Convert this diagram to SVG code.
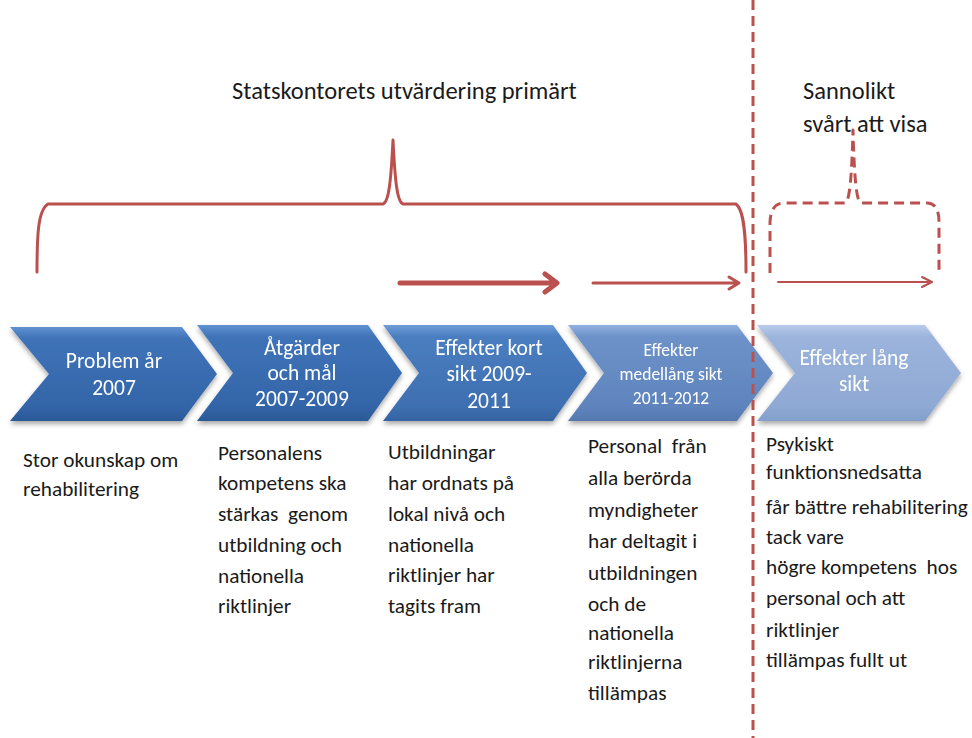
<svg xmlns="http://www.w3.org/2000/svg" width="972" height="738" viewBox="0 0 972 738">
<defs>
<style>
.lbl{font-family:Carlito,Lato,"Liberation Sans",sans-serif;fill:#1a1a1a;font-size:21.3px}
.hd{font-size:24.5px}
.ct{font-family:Carlito,Lato,"Liberation Sans",sans-serif;fill:#ffffff;font-size:21.5px;text-anchor:middle}
.sm{font-size:17.5px}
.red{fill:none;stroke:#bb514e;stroke-linecap:round;stroke-linejoin:round}
.dash{stroke-dasharray:10 6;stroke-linecap:butt}
</style>
<linearGradient id="g1" x1="0" y1="0" x2="0" y2="1"><stop offset="0" stop-color="#6192d2"/><stop offset="0.12" stop-color="#3f73b8"/><stop offset="0.85" stop-color="#3365a8"/><stop offset="1" stop-color="#2a5897"/></linearGradient>
<linearGradient id="g3" x1="0" y1="0" x2="0" y2="1"><stop offset="0" stop-color="#6f9dd8"/><stop offset="0.12" stop-color="#4a7ec0"/><stop offset="0.85" stop-color="#3e6fb0"/><stop offset="1" stop-color="#3563a2"/></linearGradient>
<linearGradient id="g4" x1="0" y1="0" x2="0" y2="1"><stop offset="0" stop-color="#90b0df"/><stop offset="0.12" stop-color="#6d92c9"/><stop offset="0.85" stop-color="#5f84bd"/><stop offset="1" stop-color="#5478b0"/></linearGradient>
<linearGradient id="g5" x1="0" y1="0" x2="0" y2="1"><stop offset="0" stop-color="#b8cbea"/><stop offset="0.12" stop-color="#9cb4dc"/><stop offset="0.85" stop-color="#8ea9d4"/><stop offset="1" stop-color="#839fcb"/></linearGradient>
<filter id="sh" x="-10%" y="-10%" width="120%" height="130%"><feDropShadow dx="0" dy="3" stdDeviation="2.5" flood-color="#000" flood-opacity="0.35"/></filter>
</defs>
<rect width="972" height="738" fill="#ffffff"/>

<g id="chevron1" filter="url(#sh)">
<path d="M10,327 L182,327 L217,374 L182,421 L10,421 L49,374 Z" fill="url(#g1)"/>
<text class="ct" x="114" y="368">Problem år</text>
<text class="ct" x="114" y="395">2007</text>
</g>
<g id="chevron2" filter="url(#sh)">
<path d="M197,325 L368,325 L402,373 L368,421 L197,421 L233,373 Z" fill="url(#g1)"/>
<text class="ct" x="302" y="355">Åtgärder</text>
<text class="ct" x="302" y="380">och mål</text>
<text class="ct" x="302" y="406">2007-2009</text>
</g>
<g id="chevron3" filter="url(#sh)">
<path d="M383,325 L553,325 L587,373 L553,421 L383,421 L419,373 Z" fill="url(#g3)"/>
<text class="ct" x="489" y="355">Effekter kort</text>
<text class="ct" x="489" y="381">sikt 2009-</text>
<text class="ct" x="489" y="408">2011</text>
</g>
<g id="chevron4" filter="url(#sh)">
<path d="M568,325 L737,325 L773,373 L737,421 L568,421 L604,373 Z" fill="url(#g4)"/>
<text class="ct sm" x="671" y="356">Effekter</text>
<text class="ct sm" x="671" y="380">medellång sikt</text>
<text class="ct sm" x="671" y="404">2011-2012</text>
</g>
<g id="chevron5" filter="url(#sh)">
<path d="M757,325 L925,325 L961,373 L925,421 L757,421 L795,373 Z" fill="url(#g5)"/>
<text class="ct" x="854" y="365">Effekter lång</text>
<text class="ct" x="854" y="391">sikt</text>
</g>

<g id="connectors">
<path class="red" stroke-width="3" d="M37,272 C37,235 38,210 48,204 L383,204 C389,202 391,180 393,140 C395,180 397,202 403,204 L736,204 C744,210 746,235 746,272"/>
<path class="red" stroke-width="5" d="M400,283 L555,283 M545,274 L557,283 L545,292"/>
<path class="red" stroke-width="3" d="M593,283 L738,283 M729,277 L739,283 L729,289"/>
<path class="red dash" stroke-width="3" d="M770,273 L770,222 Q771,203 784,203 L845,203 C850,203 852,170 853,130 C854,170 856,203 861,203 L928,203 Q939,204 939,222 L939,272"/>
<path class="red" stroke-width="2" d="M778,282 L931,282 M922,277 L932,282 L922,287"/>
<path class="red dash" stroke-width="3" d="M753,0 L753,738"/>
</g>

<g id="headers">
<text class="lbl hd" x="232" y="99">Statskontorets utvärdering primärt</text>
<text class="lbl hd" x="803" y="99">Sannolikt</text>
<text class="lbl hd" x="803" y="132">svårt att visa</text>
</g>

<g id="desc1">
<text class="lbl" x="23" y="467">Stor okunskap om</text>
<text class="lbl" x="23" y="496">rehabilitering</text>
</g>
<g id="desc2">
<text class="lbl" x="218" y="460">Personalens</text>
<text class="lbl" x="218" y="490">kompetens ska</text>
<text class="lbl" x="218" y="521" xml:space="preserve">stärkas  genom</text>
<text class="lbl" x="218" y="552">utbildning och</text>
<text class="lbl" x="218" y="583">nationella</text>
<text class="lbl" x="218" y="613">riktlinjer</text>
</g>
<g id="desc3">
<text class="lbl" x="388" y="459">Utbildningar</text>
<text class="lbl" x="388" y="490">har ordnats på</text>
<text class="lbl" x="388" y="521">lokal nivå och</text>
<text class="lbl" x="388" y="552">nationella</text>
<text class="lbl" x="388" y="582">riktlinjer har</text>
<text class="lbl" x="388" y="613">tagits fram</text>
</g>
<g id="desc4">
<text class="lbl" x="588" y="453" xml:space="preserve">Personal  från</text>
<text class="lbl" x="588" y="485">alla berörda</text>
<text class="lbl" x="588" y="517">myndigheter</text>
<text class="lbl" x="588" y="548">har deltagit i</text>
<text class="lbl" x="588" y="580">utbildningen</text>
<text class="lbl" x="588" y="611">och de</text>
<text class="lbl" x="588" y="640">nationella</text>
<text class="lbl" x="588" y="669">riktlinjerna</text>
<text class="lbl" x="588" y="700">tillämpas</text>
</g>
<g id="desc5">
<text class="lbl" x="766" y="451">Psykiskt</text>
<text class="lbl" x="766" y="479">funktionsnedsatta</text>
<text class="lbl" x="766" y="514">får bättre rehabilitering</text>
<text class="lbl" x="766" y="544">tack vare</text>
<text class="lbl" x="766" y="574" xml:space="preserve">högre kompetens  hos</text>
<text class="lbl" x="766" y="605">personal och att</text>
<text class="lbl" x="766" y="637">riktlinjer</text>
<text class="lbl" x="766" y="667">tillämpas fullt ut</text>
</g>
</svg>
